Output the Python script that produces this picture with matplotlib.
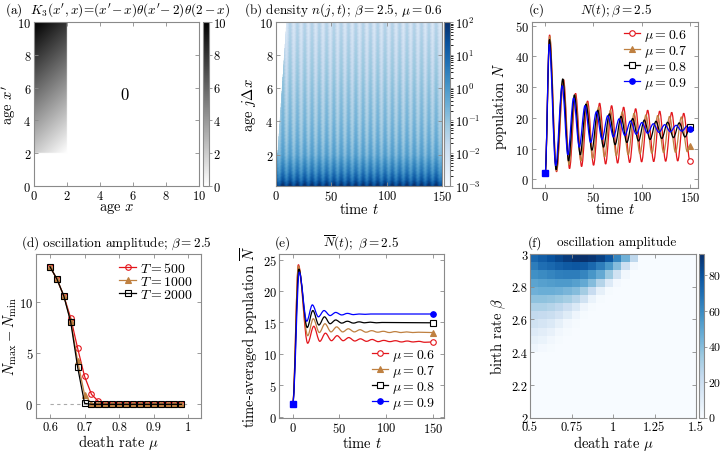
import numpy as np
import matplotlib
matplotlib.use('Agg')
import matplotlib.pyplot as plt
from matplotlib.colors import LogNorm
from matplotlib.path import Path
from matplotlib.patches import PathPatch
from matplotlib.lines import Line2D
from matplotlib.ticker import FuncFormatter
from matplotlib.transforms import blended_transform_factory

plt.rcParams.update({
    'font.family': 'cmr10',
    'mathtext.fontset': 'cm',
    'axes.formatter.use_mathtext': True,
    'font.size': 9.5,
})

W, H = 720, 452

# ---------------- data ----------------
# (a) kernel grid, from the formula in the title
kernel_age = np.linspace(0, 10, 401)

# (b) density: log10 age profile + stripe pattern in time
density_ages = [0.1, 0.5, 1, 2, 3, 4, 6, 8, 10]
density_log10 = [1.8, 0.9, 0.3, -0.5, -0.8, -1.0, -1.3, -1.6, -1.9]
stripe_period = 6.6
stripe_amp = 0.4

# (c) N(t), extrema (time, value) for each death rate
red_c_t = [0, 4.5, 11.75, 19, 25.2, 31.45, 37.7, 43.9, 50.1, 56.35, 62.6, 68.8, 75.0,
           81.25, 87.5, 93.7, 99.9, 106.15, 112.4, 118.6, 124.8, 131.05, 137.3, 143.5, 150]
red_c_v = [2, 47, 2.5, 32.5, 3.5, 28, 4.2, 25.5, 4.6, 24.8, 5.0, 24, 5.3,
           23.5, 5.5, 23, 5.7, 22.5, 5.8, 22.2, 5.9, 21.8, 6.0, 21.5, 6.0]
brown_c_t = [0, 4.7, 11.6, 18.6, 24.7, 30.85, 37.0, 43.1, 49.2, 55.35, 61.5, 67.6, 73.7,
             79.85, 86.0, 92.1, 98.2, 104.35, 110.5, 116.6, 122.7, 128.85, 135.0, 141.1, 147.2, 150]
brown_c_v = [2, 46.5, 2.8, 32.5, 4.8, 27.5, 6.0, 25, 6.8, 23.5, 7.3, 22.5, 7.7,
             22, 8.0, 21.5, 8.3, 21, 8.5, 20.8, 8.7, 20.5, 8.8, 20.3, 9.0, 11]
black_c_t = [0, 4.4, 11.3, 18.2, 24.2, 30.27, 36.3, 42.34, 48.4, 54.41, 60.4, 66.48, 72.5,
             78.55, 84.6, 90.62, 96.7, 102.69, 108.7, 114.76, 120.8, 126.83, 132.9, 138.9, 144.9, 150]
black_c_v = [2, 45.5, 3.2, 32.7, 6.0, 27.5, 8.0, 24.5, 9.5, 22.5, 10.5, 21.3, 11.3,
             20.5, 12.0, 19.8, 12.5, 19.3, 13.0, 18.9, 13.3, 18.6, 13.6, 18.4, 13.8, 17]
blue_c_t = [0, 4.2, 10.9, 17.6, 23.5, 29.4, 35.3, 41.2, 47.1, 53.0, 58.9, 64.8, 70.7,
            76.6, 82.5, 88.4, 94.3, 100.2, 106.1, 112.0, 117.9, 123.8, 129.7, 135.6, 141.5, 147.4, 150]
blue_c_v = [2, 44, 4.5, 30.5, 8.0, 26.5, 10.5, 24, 12.0, 22, 13.0, 20.7, 13.8,
            19.7, 14.3, 19.0, 14.7, 18.5, 15.0, 18.1, 15.3, 17.8, 15.5, 17.6, 15.7, 17.4, 16.5]

# (d) oscillation amplitude vs death rate
death_rates = [0.60, 0.62, 0.64, 0.66, 0.68, 0.70, 0.72, 0.74, 0.76, 0.78,
               0.80, 0.82, 0.84, 0.86, 0.88, 0.90, 0.92, 0.94, 0.96, 0.98]
amp_T500 = [13.4, 12.2, 10.55, 8.4, 5.45, 2.72, 0.97, 0.29, 0.05, 0,
            0, 0, 0, 0, 0, 0, 0, 0, 0, 0]
amp_T1000 = [13.4, 12.2, 10.55, 8.1, 4.2, 0.94, 0.08, 0, 0, 0,
             0, 0, 0, 0, 0, 0, 0, 0, 0, 0]
amp_T2000 = [13.4, 12.2, 10.55, 8.0, 3.6, 0.1, 0, 0, 0, 0,
             0, 0, 0, 0, 0, 0, 0, 0, 0, 0]

# (e) time-averaged N, extrema (time, value)
red_e_t = [0, 6, 16, 22.5, 29, 35, 41.5, 47.5, 54, 60, 66.5, 72.5, 79, 85, 91.5, 97.5,
           104, 110, 116.5, 122.5, 129, 135, 141.5, 150]
red_e_v = [2, 24.2, 11.7, 14.4, 12.0, 13.3, 12.1, 12.9, 12.1, 12.6, 12.05, 12.4, 12.0, 12.3,
           11.95, 12.15, 11.95, 12.1, 11.9, 12.05, 11.9, 12.0, 11.85, 11.9]
brown_e_t = [0, 6, 16, 22, 28.5, 34.5, 41, 47, 53.5, 59.5, 66, 72, 78.5, 84.5, 91, 97,
             103.5, 109.5, 116, 122, 128.5, 134.5, 150]
brown_e_v = [2, 24, 12.9, 15.6, 13.4, 14.8, 13.5, 14.3, 13.5, 14.0, 13.5, 13.85, 13.45, 13.7,
             13.45, 13.6, 13.4, 13.55, 13.4, 13.5, 13.4, 13.45, 13.4]
black_e_t = [0, 6.5, 15.5, 21.5, 28, 34, 40, 46, 52.5, 58.5, 65, 71, 77, 83, 89.5, 95.5, 150]
black_e_v = [2, 23.5, 14.2, 16.9, 14.6, 15.9, 14.8, 15.4, 14.9, 15.2, 14.9, 15.1, 14.95, 15.05,
             14.95, 15.0, 14.95]
blue_e_t = [0, 7, 15, 21, 27.5, 33.5, 40, 46, 52.5, 58.5, 65, 71, 77.5, 83.5, 150]
blue_e_v = [2, 23, 15.2, 17.8, 15.9, 16.9, 16.1, 16.6, 16.2, 16.45, 16.25, 16.35, 16.3, 16.35, 16.35]

# (f) amplitude map, rows from beta=3.0 downward, cells from mu=0.5 rightward (step 0.05)
amp_rows = [
    [72, 76, 80, 84, 88, 91, 92, 90, 86, 78, 62, 45, 25],
    [65, 70, 72, 75, 77, 78, 77, 72, 65, 55, 40, 20, 3],
    [58, 60, 62, 64, 65, 65, 62, 56, 48, 35, 18, 3],
    [50, 52, 53, 54, 54, 52, 48, 40, 28, 12, 2],
    [45, 46, 46, 45, 43, 40, 33, 22, 8, 1],
    [38, 38, 37, 35, 32, 27, 18, 6, 1],
    [30, 30, 28, 25, 20, 13, 4, 1],
    [24, 23, 21, 17, 11, 4, 1],
    [18, 16, 13, 8, 3, 1],
    [12, 10, 7, 3, 1],
    [8, 6, 3, 1],
    [4, 2, 1],
]
mu_edges = np.linspace(0.5, 1.5, 21)
beta_edges = np.linspace(2.0, 3.0, 21)

RED, BROWN, BLACK, BLUE = '#e3151b', '#bf8040', 'black', '#0000ff'
SPINE = '#8a8a8a'
TICK_FS = 9
LABEL_FS = 10.5
LEGEND_FS = 10


def px_axes(left, right, top, bottom):
    return fig.add_axes([left / W, 1 - bottom / H, (right - left) / W, (bottom - top) / H])


def style(ax):
    for s in ax.spines.values():
        s.set_color(SPINE)
        s.set_linewidth(0.8)
    ax.tick_params(direction='in', top=True, right=True, length=3, width=0.6,
                   color=SPINE, labelsize=TICK_FS, pad=2)


def labels(ax, xlabel, ylabel, xlabel_y, ylabel_x):
    # place axis labels at pixel positions
    ax.set_xlabel(xlabel, fontsize=LABEL_FS)
    ax.set_ylabel(ylabel, fontsize=LABEL_FS)
    ax.xaxis.set_label_coords(0.5, 1 - xlabel_y / H,
                              transform=blended_transform_factory(ax.transAxes, fig.transFigure))
    ax.yaxis.set_label_coords(ylabel_x / W, 0.5,
                              transform=blended_transform_factory(fig.transFigure, ax.transAxes))
    ax.xaxis.label.set_va('center')
    ax.yaxis.label.set_va('center')


def legend(ax, loc, x, y, **kw):
    return ax.legend(loc=loc, bbox_to_anchor=(x / W, 1 - y / H), bbox_transform=fig.transFigure,
                     frameon=False, fontsize=LEGEND_FS, handlelength=1.2, handletextpad=0.3,
                     labelspacing=0.0, borderaxespad=0, borderpad=0, **kw)


def style_cbar(cb, pad=1.5, size=TICK_FS):
    cb.outline.set_edgecolor(SPINE)
    cb.outline.set_linewidth(0.8)
    cb.ax.tick_params(length=2, width=0.6, color=SPINE, labelsize=size, pad=pad)


def smooth_line(ax, ts, vs, color, zorder=2):
    verts = [(ts[0], vs[0])]
    codes = [Path.MOVETO]
    for i in range(len(ts) - 1):
        dt = ts[i + 1] - ts[i]
        verts += [(ts[i] + dt / 3, vs[i]), (ts[i + 1] - dt / 3, vs[i + 1]), (ts[i + 1], vs[i + 1])]
        codes += [Path.CURVE4] * 3
    ax.add_patch(PathPatch(Path(verts, codes), fill=False, edgecolor=color, lw=0.9, zorder=zorder))


g = FuncFormatter(lambda v, p: '%g' % v)

fig = plt.figure(figsize=(W / 100, H / 100), dpi=100)

# ---------------- (a) ----------------
ax = px_axes(34, 199, 23, 187)
X, XP = np.meshgrid(kernel_age, kernel_age)
K = (XP - X) * (XP > 2) * (X < 2)
im = ax.imshow(K, origin='lower', extent=[0, 10, 0, 10], cmap='gray_r', vmin=0, vmax=10,
               aspect='auto', interpolation='bilinear')
ax.text(5.5, 5.6, '0', ha='center', va='center', fontsize=12)
ax.set_xticks(range(0, 11, 2))
ax.set_yticks(range(0, 11, 2))
style(ax)
labels(ax, r"age $x$", r"age $x'$", 209, 9)
cax = px_axes(203, 209, 23, 187)
cb = fig.colorbar(im, cax=cax, ticks=range(0, 11, 2), format=g)
style_cbar(cb)

# ---------------- (b) ----------------
ax = px_axes(276, 442, 23, 187)
t_grid = np.linspace(0, 150, 751)
a_grid = np.linspace(0.1, 10, 120)
logn = np.interp(a_grid, density_ages, density_log10)[:, None] + \
    stripe_amp * np.cos(2 * np.pi * t_grid / stripe_period)[None, :]
dens = 10 ** logn
dens = np.ma.masked_where(a_grid[:, None] > t_grid[None, :] + 0.3, dens)
cmap_b = plt.get_cmap('Blues').copy()
cmap_b.set_bad('white')
im = ax.pcolormesh(t_grid, a_grid, dens, cmap=cmap_b, norm=LogNorm(1e-3, 1e2), shading='gouraud')
ax.set_xlim(0, 150)
ax.set_ylim(0.1, 10)
ax.set_xticks([0, 50, 100, 150])
ax.set_yticks([2, 4, 6, 8, 10])
style(ax)
labels(ax, r"time $t$", r"age $j\Delta x$", 210, 249)
cax = px_axes(444, 450, 23, 187)
cb = fig.colorbar(im, cax=cax)
style_cbar(cb)

# ---------------- (c) ----------------
ax = px_axes(531.7, 697.7, 22.7, 188.7)
series_c = [(red_c_t, red_c_v, RED, 'o', 'white', r'$\mu=0.6$'),
            (brown_c_t, brown_c_v, BROWN, '^', BROWN, r'$\mu=0.7$'),
            (black_c_t, black_c_v, BLACK, 's', 'white', r'$\mu=0.8$'),
            (blue_c_t, blue_c_v, BLUE, 'o', BLUE, r'$\mu=0.9$')]
handles = []
for ts, vs, c, m, mfc, lab in series_c:
    smooth_line(ax, ts, vs, c)
    ax.plot([ts[-1]], [vs[-1]], ls='none', marker=m, mfc=mfc, mec=c, ms=4, mew=0.8, zorder=3)
    handles.append(Line2D([], [], color=c, lw=0.9, marker=m, mfc=mfc, mec=c, ms=4, mew=0.8))
ax.plot([blue_c_t[0]], [blue_c_v[0]], ls='none', marker='s', color=BLUE, ms=4, zorder=4)
ax.set_xlim(-14, 158)
ax.set_ylim(-2.7, 51.3)
ax.set_xticks([0, 50, 100, 150])
ax.set_yticks(range(0, 51, 10))
style(ax)
labels(ax, r"time $t$", r"population $N$", 210, 500)
legend(ax, 'upper right', 688, 28, handles=handles, labels=[s[5] for s in series_c])

# ---------------- (d) ----------------
ax = px_axes(36, 201.3, 255, 419.3)
ax.plot([0.6, 1.0], [0, 0], ls=(0, (3, 3)), color='#aaaaaa', lw=0.8, zorder=1)
ax.plot(death_rates, amp_T500, color=RED, lw=0.9, marker='o', mfc='none', mec=RED, ms=4, mew=0.8,
        label=r'$T=500$')
ax.plot(death_rates, amp_T1000, color=BROWN, lw=0.9, marker='^', mfc=BROWN, mec=BROWN, ms=4,
        mew=0.8, label=r'$T=1000$')
ax.plot(death_rates, amp_T2000, color=BLACK, lw=0.9, marker='s', mfc='none', mec=BLACK, ms=4,
        mew=0.8, label=r'$T=2000$')
ax.set_xlim(0.5595, 1.0376)
ax.set_ylim(-1.36, 14.64)
ax.set_xticks([0.6, 0.7, 0.8, 0.9, 1.0])
ax.xaxis.set_major_formatter(g)
ax.set_yticks([0, 5, 10])
style(ax)
labels(ax, r"death rate $\mu$", r"$N_{\mathrm{max}}-N_{\mathrm{min}}$", 443, 10)
legend(ax, 'upper right', 193, 262)

# ---------------- (e) ----------------
ax = px_axes(279.3, 444, 255, 419.3)
series_e = [(red_e_t, red_e_v, RED, 'o', 'white', r'$\mu=0.6$'),
            (brown_e_t, brown_e_v, BROWN, '^', BROWN, r'$\mu=0.7$'),
            (black_e_t, black_e_v, BLACK, 's', 'white', r'$\mu=0.8$'),
            (blue_e_t, blue_e_v, BLUE, 'o', BLUE, r'$\mu=0.9$')]
handles = []
for ts, vs, c, m, mfc, lab in series_e:
    smooth_line(ax, ts, vs, c)
    ax.plot([ts[-1]], [vs[-1]], ls='none', marker=m, mfc=mfc, mec=c, ms=4, mew=0.8, zorder=3)
    handles.append(Line2D([], [], color=c, lw=0.9, marker=m, mfc=mfc, mec=c, ms=4, mew=0.8))
ax.plot([blue_e_t[0]], [blue_e_v[0]], ls='none', marker='s', color=BLUE, ms=4, zorder=4)
ax.set_xlim(-14.4, 162)
ax.set_ylim(-0.25, 25.9)
ax.set_xticks([0, 50, 100, 150])
ax.set_yticks(range(0, 26, 5))
style(ax)
labels(ax, r"time $t$", r"time-averaged population $\overline{N}$", 444, 249)
legend(ax, 'lower right', 436, 412, handles=handles, labels=[s[5] for s in series_e])

# ---------------- (f) ----------------
ax = px_axes(530, 696, 255, 418.7)
Z = np.zeros((20, 20))
for k, row in enumerate(amp_rows):
    Z[19 - k, :len(row)] = row
im = ax.pcolormesh(mu_edges, beta_edges, Z, cmap='Blues', vmin=0, vmax=92)
ax.set_xlim(0.5, 1.5)
ax.set_ylim(2, 3)
ax.set_xticks([0.5, 0.75, 1, 1.25, 1.5])
ax.set_yticks([2, 2.2, 2.4, 2.6, 2.8, 3])
ax.xaxis.set_major_formatter(g)
ax.yaxis.set_major_formatter(g)
style(ax)
labels(ax, r"death rate $\mu$", r"birth rate $\beta$", 444, 498)
cax = px_axes(698.5, 704, 255, 418.7)
cb = fig.colorbar(im, cax=cax, ticks=[0, 20, 40, 60, 80], format=g)
style_cbar(cb, pad=1, size=8.5)

# ---------------- titles ----------------
def title(x, y, s, **kw):
    fig.text(x / W, 1 - y / H, s, ha='left', va='center', fontsize=9.5, **kw)

title(5, 10, r"(a)  $K_3(x',x)\!=\!(x'\!-x)\theta(x'\!-2)\theta(2-x)$")
title(244, 10, r"(b) density $n(j,t)$; $\beta=2.5$, $\mu=0.6$")
title(529, 10, r"(c)")
title(580, 10, r"$N(t);\beta=2.5$")
title(21, 243, r"(d) oscillation amplitude; $\beta=2.5$")
title(275, 243, r"(e)")
title(323, 243, r"$\overline{N}(t);\ \beta=2.5$")
title(528, 243, r"(f)")
title(557, 243, r"oscillation amplitude")

fig.savefig('out.png', dpi=100)
